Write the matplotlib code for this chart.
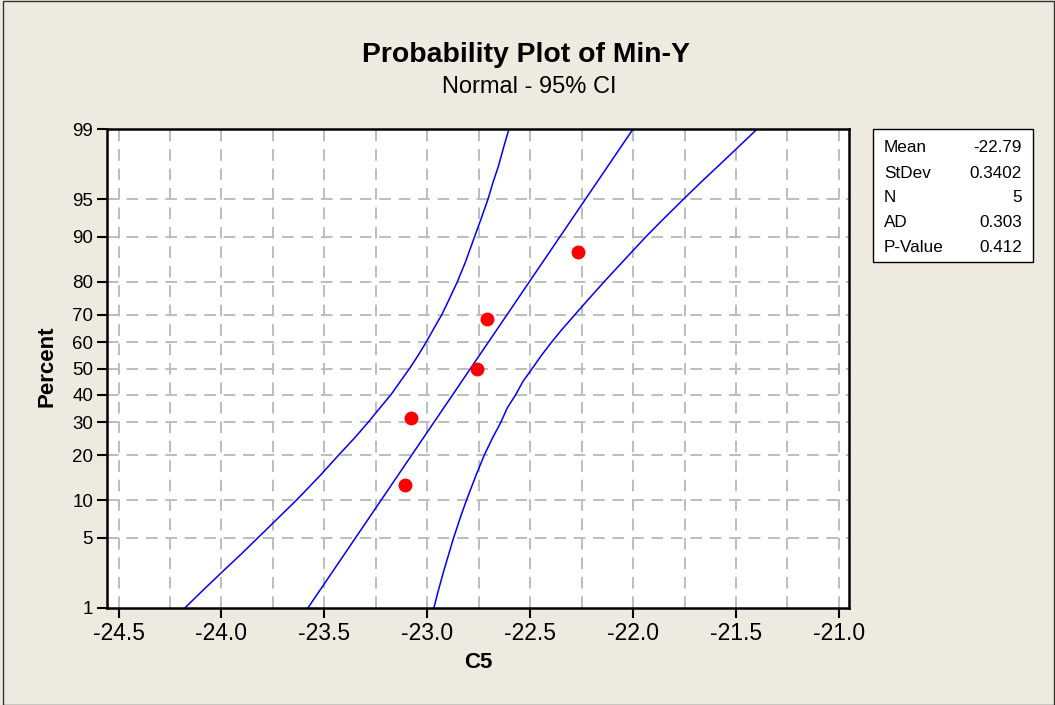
import numpy as np
import matplotlib
matplotlib.use("Agg")
import matplotlib.pyplot as plt
from matplotlib.patches import Rectangle
from statistics import NormalDist

# data
pts_x = [-23.11, -23.08, -22.76, -22.71, -22.27]
pts_pct = [12.96, 31.48, 50.0, 68.52, 87.04]

fit_pct = [1, 99]
fit_x = [-23.58, -22.0]

# 95% CI band, x position at each percent level
band_pct = [1, 1.5, 2.5, 3.5, 5, 7.5, 10, 15, 20, 25, 30, 35, 40, 45, 50,
            55, 60, 65, 70, 75, 80, 85, 90, 92.5, 95, 96.5, 97.5, 98.5, 99]
lower_x = [-24.178, -24.098, -23.988, -23.909, -23.823, -23.718, -23.637, -23.519,
           -23.431, -23.353, -23.288, -23.231, -23.176, -23.131, -23.086,
           -23.045, -23.006, -22.969, -22.929, -22.893, -22.854, -22.814, -22.770,
           -22.741, -22.705, -22.680, -22.655, -22.626, -22.603]
upper_x = [-22.968, -22.948, -22.919, -22.897, -22.872, -22.838, -22.810, -22.763,
           -22.723, -22.683, -22.643, -22.612, -22.570, -22.535, -22.490,
           -22.446, -22.397, -22.343, -22.282, -22.216, -22.141, -22.051, -21.937,
           -21.859, -21.755, -21.669, -21.590, -21.479, -21.397]

y_ticks = [1, 5, 10, 20, 30, 40, 50, 60, 70, 80, 90, 95, 99]
x_ticks = [-24.5, -24.0, -23.5, -23.0, -22.5, -22.0, -21.5, -21.0]

stat_names = ["Mean", "StDev", "N", "AD", "P-Value"]
stat_values = ["-22.79", "0.3402", "5", "0.303", "0.412"]

nd = NormalDist()

# normal probability scale for the percent axis
def fwd(p):
    p = np.clip(np.asarray(p, dtype=float) / 100.0, 1e-12, 1 - 1e-12)
    return np.vectorize(nd.inv_cdf, otypes=[float])(p)

def inv(z):
    return np.vectorize(nd.cdf, otypes=[float])(np.asarray(z, dtype=float)) * 100.0

bg = "#EEEAE0"
plt.rcParams["font.family"] = ["Liberation Sans", "DejaVu Sans"]

fig = plt.figure(figsize=(10.55, 7.05), dpi=100, facecolor=bg)
ax = fig.add_axes([107/1055, 97/705, 742/1055, 479/705])
ax.set_facecolor("white")
ax.set_yscale("function", functions=(fwd, inv))

# grid: vertical every 0.25, horizontal at inner percent ticks
grid_kw = dict(color="#BDBDBD", lw=1.4, ls=(0, (6, 4)), zorder=0)
for gx in np.arange(-24.5, -20.99, 0.25):
    ax.axvline(gx, **grid_kw)
for gy in y_ticks[1:-1]:
    ax.axhline(gy, **grid_kw)

ax.plot(lower_x, band_pct, color="#0000FF", lw=1.1, zorder=2)
ax.plot(upper_x, band_pct, color="#0000FF", lw=1.1, zorder=2)
ax.plot(fit_x, fit_pct, color="#0000FF", lw=1.1, zorder=2)
ax.plot(pts_x, pts_pct, "o", color="#FF0000", ms=10, mec="none", zorder=3)

ax.set_xlim(-24.556, -20.951)
ax.set_ylim(1, 99)
ax.set_xticks(x_ticks)
ax.set_xticklabels([f"{v:.1f}" for v in x_ticks], fontsize=16.5)
ax.set_yticks(y_ticks)
ax.set_yticklabels([str(v) for v in y_ticks], fontsize=13.5)
ax.yaxis.set_minor_locator(matplotlib.ticker.NullLocator())
ax.tick_params(axis="x", length=7, width=1.5, pad=3)
ax.tick_params(axis="y", length=7, width=1.5, pad=3)
for s in ax.spines.values():
    s.set_linewidth(1.8)

fig.text(0.4986, 1 - 55/705, "Probability Plot of Min-Y", ha="center", va="center",
         fontsize=20.4, fontweight="bold")
fig.text(0.5014, 1 - 87/705, "Normal - 95% CI", ha="center", va="center", fontsize=17)
fig.text(47/1055, 1 - 366/705, "Percent", rotation=90, ha="center", va="center",
         fontsize=16, fontweight="bold")
fig.text(478/1055, 1 - 662/705, "C5", ha="center", va="center", fontsize=16, fontweight="bold")

# stats box
fig.patches.append(Rectangle((873/1055, 1 - 262/705), 160/1055, 133/705,
                             transform=fig.transFigure, facecolor="white",
                             edgecolor="black", lw=1.0))
row_y = [148, 173, 198, 222.5, 247.5]
for name, val, yy in zip(stat_names, stat_values, row_y):
    fig.text(884/1055, 1 - yy/705, name, ha="left", va="center", fontsize=12.3)
    fig.text(1022/1055, 1 - yy/705, val, ha="right", va="center", fontsize=12.3)

# outer frame of the graph window
fig.patches.append(Rectangle((3/1055, 0.5/705), 1 - 4/1055, 1 - 1/705,
                             transform=fig.transFigure, fill=False,
                             edgecolor="#333333", lw=1.0))

fig.savefig("out.png", dpi=100, facecolor=bg)
